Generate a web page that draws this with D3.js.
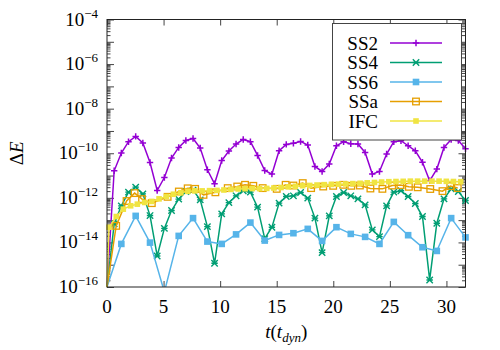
<!DOCTYPE html>
<html><head><meta charset="utf-8">
<script src="https://cdn.jsdelivr.net/npm/d3@7"></script>
<style>
body{margin:0;background:#fff;}
</style></head><body>
<svg id="c" width="500" height="350"></svg>
<script>
// ---- data ----
const tGrid = [0,0.634,1.267,1.901,2.535,3.169,3.802,4.436,5.070,5.703,6.337,6.971,7.604,8.238,8.872,9.506,10.139,10.773,11.407,12.040,12.674,13.308,13.941,14.575,15.209,15.843,16.476,17.110,17.744,18.377,19.011,19.645,20.278,20.912,21.546,22.180,22.813,23.447,24.081,24.714,25.348,25.982,26.615,27.249,27.883,28.517,29.150,29.784,30.418,31.051,31.685];
const ss2 = [1e-16,1.63e-11,1.02e-10,3.29e-10,5.69e-10,2.87e-10,3.86e-11,2.13e-12,8.17e-12,6.08e-11,1.82e-10,3.76e-10,4.62e-10,1.71e-10,1.81e-11,4.26e-12,4.74e-11,1.27e-10,2.59e-10,4.17e-10,3.29e-10,7.96e-11,1.69e-11,1.16e-11,1.29e-10,2.49e-10,2.81e-10,3.39e-10,2.34e-10,2.55e-11,1.52e-11,3.27e-11,2.17e-10,3.29e-10,2.67e-10,2.59e-10,1.09e-10,1.16e-11,1.52e-11,9.2e-11,3.29e-10,3.65e-10,2.17e-10,1.29e-10,3.94e-11,5.81e-12,1.95e-11,1.82e-10,4.17e-10,3.76e-10,1.59e-10];
const ss4 = [1e-16,6.78e-14,4.36e-13,1.80e-12,3.03e-12,1.51e-12,1.60e-13,2.47e-15,4.26e-14,2.69e-13,8.75e-13,1.92e-12,2.22e-12,8.13e-13,5.13e-14,1.16e-15,1.91e-13,6.08e-13,1.23e-12,2.07e-12,1.80e-12,3.82e-13,1.48e-14,4.82e-14,5.78e-13,1.14e-12,1.23e-12,1.73e-12,9.71e-13,1.23e-13,3.48e-15,1.55e-13,1.14e-12,1.73e-12,1.23e-12,9.02e-13,4.84e-13,3.65e-14,1.82e-14,4.36e-13,1.80e-12,2.07e-12,1.14e-12,5.55e-13,1.45e-13,2.07e-16,7.29e-14,9.02e-13,2.53e-12,1.92e-12,7.57e-13];
const tSS6 = [0,1.267,2.535,3.802,5.070,6.337,7.604,8.872,10.139,11.407,12.674,13.941,15.209,16.476,17.744,19.011,20.278,21.546,22.813,24.081,25.348,26.615,27.883,29.150,30.418,31.685];
const ss6 = [1e-16,8.57e-15,1.55e-13,9.80e-15,6e-17,1.96e-14,1.23e-13,1.09e-14,8.57e-15,2.29e-14,7.76e-14,1.21e-14,2.17e-14,2.59e-14,4.05e-14,1.17e-14,4.82e-14,2.41e-14,1.77e-14,8.57e-15,8.33e-14,2.11e-14,6.08e-15,4.15e-15,1.23e-13,1.68e-14];
const tSSa = [0,0.81,1.73,2.44,3.10,3.96,5.36,6.35,7.13,7.79,8.53,9.58,10.67,11.51,12.20,12.93,13.76,15.00,15.79,16.47,17.30,18.04,19.11,19.99,20.88,21.59,22.35,23.28,24.34,25.20,25.93,26.68,27.46,28.57,29.65,30.34,31.00];
const ssa = [1e-16,5.52e-14,7.18e-13,1.63e-12,8.75e-13,5.78e-13,1.11e-12,1.92e-12,2.67e-12,2.53e-12,1.36e-12,1.77e-12,2.73e-12,3.22e-12,3.84e-12,3.46e-12,2.73e-12,2.53e-12,3.84e-12,3.57e-12,4.58e-12,2.73e-12,3.22e-12,3.46e-12,3.84e-12,3.46e-12,3.57e-12,2.62e-12,2.53e-12,3.57e-12,3.72e-12,3.12e-12,2.97e-12,2.49e-12,2.00e-12,3.36e-12,2.75e-12];
const tIFC = [0,0.18,0.82,1.44,2.09,2.68,3.33,3.95,4.60,5.25,5.87,6.53,7.15,7.76,8.41,9.06,9.71,10.33,10.95,11.60,12.20,12.85,13.48,14.12,14.75,15.38,16.02,16.65,17.29,17.92,18.56,19.19,19.83,20.46,21.10,21.73,22.37,23.00,23.64,24.27,24.91,25.54,26.18,26.81,27.45,28.08,28.72,29.35,29.99,30.62,31.26];
const ifc = [1e-16,4.8e-14,1.45e-13,3.1e-13,4.4e-13,5.2e-13,6.2e-13,6.9e-13,9.0e-13,1.14e-12,1.45e-12,1.7e-12,1.95e-12,2.05e-12,2.05e-12,2.1e-12,2.15e-12,2.25e-12,2.4e-12,2.5e-12,2.55e-12,2.6e-12,2.6e-12,2.65e-12,2.75e-12,2.9e-12,3.1e-12,3.3e-12,3.5e-12,3.6e-12,3.75e-12,3.9e-12,4.0e-12,4.1e-12,4.2e-12,4.35e-12,4.5e-12,4.7e-12,4.9e-12,5.1e-12,5.3e-12,5.4e-12,5.5e-12,5.6e-12,5.6e-12,5.6e-12,5.6e-12,5.6e-12,5.5e-12,5.4e-12,5.3e-12];
const seriesNames = ["SS2","SS4","SS6","SSa","IFC"];
const seriesColors = ["#9400d3","#009e73","#56b4e9","#e69f00","#f0e442"];
const xTicks = [0,5,10,15,20,25,30];
const yTickExps = [-4,-6,-8,-10,-12,-14,-16];

// ---- layout ----
const FONT="'Liberation Serif','DejaVu Serif','Noto Serif','FreeSerif','Tinos','Times New Roman',Times,serif";
const L=107, R=465.5, T=19.5, B=287;
const svg = d3.select("#c");
const x = d3.scaleLinear().domain([0,31.685]).range([L,R]);
const y = d3.scaleLog().domain([1e-16,1e-4]).range([B,T]);

svg.append("defs").append("clipPath").attr("id","clip")
  .append("rect").attr("x",L-4).attr("y",T-4).attr("width",R-L+8).attr("height",B-T+4);

const minorVals=[];
for(let e=-16;e<-4;e++){for(let m=2;m<=9;m++)minorVals.push(m*Math.pow(10,e));}
const majorVals=[];for(let e=-16;e<=-4;e++)majorVals.push(Math.pow(10,e));
const tickCol="#444";
function yAx(g,side){
  const ax = side==="left"? d3.axisLeft(y):d3.axisRight(y);
  g.call(ax.tickValues(majorVals).tickSize(-7).tickFormat(""));
  g.select(".domain").remove();
  g.selectAll("line").attr("stroke",tickCol);
  const ax2 = side==="left"? d3.axisLeft(y):d3.axisRight(y);
  g.append("g").call(ax2.tickValues(minorVals).tickSize(-3.5).tickFormat("")).call(s=>s.select(".domain").remove()).selectAll("line").attr("stroke",tickCol);
}
svg.append("g").attr("transform",`translate(${L},0)`).call(g=>yAx(g,"left"));
svg.append("g").attr("transform",`translate(${R},0)`).call(g=>yAx(g,"right"));
const xb=svg.append("g").attr("transform",`translate(0,${B})`).call(d3.axisBottom(x).tickValues(xTicks).tickSize(-6).tickFormat(""));
xb.select(".domain").remove(); xb.selectAll("line").attr("stroke",tickCol);
const xt=svg.append("g").attr("transform",`translate(0,${T})`).call(d3.axisTop(x).tickValues(xTicks).tickSize(-6).tickFormat(""));
xt.select(".domain").remove(); xt.selectAll("line").attr("stroke",tickCol);

// tick labels
const fs=19;
svg.append("g").selectAll("text").data(xTicks).join("text")
  .attr("x",d=>x(d)).attr("y",B+26).attr("text-anchor","middle").attr("font-size",fs).style("font-family",FONT).text(d=>d);
const yl=svg.append("g").selectAll("text").data(yTickExps).join("text")
  .attr("x",L-9).attr("y",d=>y(Math.pow(10,d))+6).attr("text-anchor","end").attr("font-size",fs).style("font-family",FONT);
yl.append("tspan").text("10");
yl.append("tspan").attr("dy",-8).attr("font-size",13).text(d=>"\u2212"+Math.abs(d));

// axis titles
const yt=svg.append("text").attr("transform",`translate(23,${(T+B)/2}) rotate(-90)`).attr("text-anchor","middle").attr("font-size",fs).style("font-family",FONT);
yt.append("tspan").text("\u0394");
yt.append("tspan").attr("font-style","italic").text("E");
const xt2=svg.append("text").attr("x",(L+R)/2).attr("y",338).attr("text-anchor","middle").attr("font-size",fs).style("font-family",FONT);
xt2.append("tspan").attr("font-style","italic").text("t");
xt2.append("tspan").text("(");
xt2.append("tspan").attr("font-style","italic").text("t");
xt2.append("tspan").attr("font-style","italic").attr("font-size",13).attr("dy",4).text("dyn");
xt2.append("tspan").attr("dy",-4).text(")");

// markers
function marker(g,type,cx,cy,col){
  const s=3.2;
  if(type==="plus"){
    g.append("path").attr("d",`M${cx-s},${cy}H${cx+s}M${cx},${cy-s}V${cy+s}`).attr("stroke",col).attr("stroke-width",1.5);
  } else if(type==="star"){
    g.append("path").attr("d",`M${cx-s},${cy-s}L${cx+s},${cy+s}M${cx-s},${cy+s}L${cx+s},${cy-s}M${cx-s},${cy}H${cx+s}`).attr("stroke",col).attr("stroke-width",1.4);
  } else if(type==="fsq"){
    g.append("rect").attr("x",cx-3.3).attr("y",cy-3.3).attr("width",6.6).attr("height",6.6).attr("fill",col);
  } else if(type==="osq"){
    g.append("rect").attr("x",cx-3.3).attr("y",cy-3.3).attr("width",6.6).attr("height",6.6).attr("fill","none").attr("stroke",col).attr("stroke-width",1.3);
  } else if(type==="fsqs"){
    g.append("rect").attr("x",cx-2.8).attr("y",cy-2.8).attr("width",5.6).attr("height",5.6).attr("fill",col);
  }
}
const series=[
  {t:tGrid,v:ss2,m:"plus"},
  {t:tGrid,v:ss4,m:"star"},
  {t:tSS6,v:ss6,m:"fsq"},
  {t:tSSa,v:ssa,m:"osq"},
  {t:tIFC,v:ifc,m:"fsqs"}
];
const line=d3.line().x(d=>x(d[0])).y(d=>y(d[1]));
const plot=svg.append("g").attr("clip-path","url(#clip)");
series.forEach((s,i)=>{
  const pts=s.t.map((t,k)=>[t,s.v[k]]);
  const g=plot.append("g");
  g.append("path").attr("d",line(pts)).attr("fill","none").attr("stroke",seriesColors[i]).attr("stroke-width",1.5);
  pts.filter(p=>p[1]>1e-16).forEach(p=>marker(g,s.m,x(p[0]),y(p[1]),seriesColors[i]));
});

// border
svg.append("rect").attr("x",L).attr("y",T).attr("width",R-L).attr("height",B-T).attr("fill","none").attr("stroke","#222").attr("stroke-width",1);

// legend
const lg=svg.append("g");
lg.append("rect").attr("x",332.5).attr("y",23.5).attr("width",129).attr("height",116.5).attr("fill","#fff").attr("stroke","#444").attr("stroke-width",1);
seriesNames.forEach((n,i)=>{
  const yy=43+i*19.5;
  lg.append("text").attr("x",378).attr("y",yy+6.5).attr("text-anchor","end").attr("font-size",fs).style("font-family",FONT).text(n);
  lg.append("line").attr("x1",390).attr("x2",442).attr("y1",yy).attr("y2",yy).attr("stroke",seriesColors[i]).attr("stroke-width",1.5);
  marker(lg,series[i].m,416,yy,seriesColors[i]);
});
</script></body></html>
